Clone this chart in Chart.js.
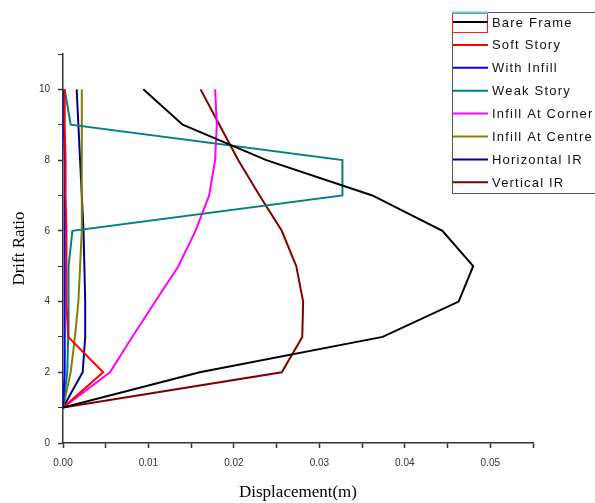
<!DOCTYPE html>
<html>
<head>
<meta charset="utf-8">
<script src="https://cdn.jsdelivr.net/npm/chart.js@4"></script>
<style>
  html, body { margin: 0; padding: 0; background: #fff; }
  #wrap { width: 595px; height: 503px; }
</style>
</head>
<body>
<div id="wrap"><canvas id="driftChart" width="595" height="503"></canvas></div>
<script>
// story levels (y) and displacement in metres (x) for each model
const stories = [1, 2, 3, 4, 5, 6, 7, 8, 9, 10];
const bareFrame      = [0, 0.0160, 0.0374, 0.0463, 0.0480, 0.0444, 0.0362, 0.0238, 0.0140, 0.0094];
const softStory      = [0, 0.0047, 0.0006, 0.0004, 0.0004, 0.0004, 0.0003, 0.0003, 0.0002, 0.0002];
const withInfill     = [0, 0.0002, 0.0002, 0.0002, 0.0002, 0.0002, 0.0002, 0.0002, 0.0001, 0.0001];
const weakStory      = [0, 0.0005, 0.0006, 0.0006, 0.0007, 0.0011, 0.0327, 0.0327, 0.0009, 0.0002];
const infillCorner   = [0, 0.0055, 0.0081, 0.0108, 0.0135, 0.0155, 0.0171, 0.0178, 0.0180, 0.0178];
const infillCentre   = [0, 0.0009, 0.0014, 0.0018, 0.0020, 0.0022, 0.0022, 0.0022, 0.0022, 0.0022];
const horizontalIR   = [0, 0.0023, 0.0026, 0.0026, 0.0025, 0.0024, 0.0022, 0.0020, 0.0018, 0.0016];
const verticalIR     = [0, 0.0256, 0.0280, 0.0281, 0.0273, 0.0256, 0.0230, 0.0205, 0.0183, 0.0161];

const seriesNames  = ['Bare Frame', 'Soft Story', 'With Infill', 'Weak Story',
                      'Infill At Corner', 'Infill At Centre', 'Horizontal IR', 'Vertical IR'];
const seriesValues = [bareFrame, softStory, withInfill, weakStory,
                      infillCorner, infillCentre, horizontalIR, verticalIR];
const seriesColors = ['#000000', '#ff0000', '#0000ff', '#008080',
                      '#ff00ff', '#808000', '#000080', '#800000'];

const datasets = seriesNames.map((name, i) => ({
  label: name,
  data: stories.map((s, j) => ({ x: seriesValues[i][j], y: s })),
  borderColor: seriesColors[i],
  backgroundColor: seriesColors[i],
  borderWidth: 2,
  pointRadius: 0,
  tension: 0,
  fill: false
}));

// legend box drawn inside the plot, top right
const boxLegend = {
  id: 'boxLegend',
  afterDraw(chart) {
    const ctx = chart.ctx;
    ctx.save();
    ctx.strokeStyle = '#555';
    ctx.lineWidth = 1;
    ctx.strokeRect(452.5, 12.5, 160, 181);
    // odd little marker left on the first entry in the original
    ctx.strokeStyle = '#ff2020';
    ctx.strokeRect(452.5, 13.5, 35, 19);
    ctx.strokeStyle = '#40e0f0';
    ctx.lineWidth = 2;
    ctx.beginPath(); ctx.moveTo(452, 12.5); ctx.lineTo(488, 12.5); ctx.stroke();

    ctx.font = '13px "Liberation Sans", Arial, sans-serif';
    ctx.textBaseline = 'middle';
    ctx.letterSpacing = '1.2px';
    chart.data.datasets.forEach((ds, i) => {
      const y = 22 + i * 22.9;
      ctx.strokeStyle = ds.borderColor;
      ctx.lineWidth = 2;
      ctx.beginPath(); ctx.moveTo(453, y); ctx.lineTo(488, y); ctx.stroke();
      ctx.fillStyle = '#111';
      ctx.fillText(ds.label, 492, y + 1);
    });
    ctx.restore();
  }
};

new Chart(document.getElementById('driftChart'), {
  type: 'line',
  data: { datasets },
  options: {
    responsive: false,
    animation: false,
    layout: { padding: { left: 0, top: 54, right: 62, bottom: 0 } },
    plugins: { legend: { display: false }, tooltip: { enabled: false } },
    scales: {
      x: {
        type: 'linear',
        min: 0,
        max: 0.055,
        afterFit(scale) { scale.height = 60; },
        border: { color: '#333', width: 1.5 },
        grid: {
          drawOnChartArea: false,
          tickLength: 5,
          tickColor: '#333',
          tickWidth: 1.5
        },
        ticks: {
          stepSize: 0.005,
          autoSkip: false,
          maxRotation: 0,
          padding: 9,
          color: '#333',
          font: { family: '"Liberation Sans", Arial, sans-serif', size: 10 },
          callback(v) {
            return Math.round(v * 1000) % 10 === 0 ? v.toFixed(2) : '';
          }
        },
        title: {
          display: true,
          text: 'Displacement(m)',
          color: '#000',
          font: { family: '"Liberation Serif", "Times New Roman", serif', size: 17 },
          padding: { top: 0, bottom: 0 }
        }
      },
      y: {
        type: 'linear',
        min: 0,
        max: 11,
        afterFit(scale) { scale.width = 63; },
        border: { color: '#333', width: 1.5 },
        grid: {
          drawOnChartArea: false,
          tickLength: 5,
          tickColor: '#333',
          tickWidth: ctx => (ctx.tick && ctx.tick.value % 2 === 0 ? 1.5 : 1)
        },
        ticks: {
          stepSize: 1,
          autoSkip: false,
          padding: 8,
          color: '#333',
          font: { family: '"Liberation Sans", Arial, sans-serif', size: 10 },
          callback(v) { return v % 2 === 0 ? v : ''; }
        },
        title: {
          display: true,
          text: 'Drift Ratio',
          color: '#000',
          font: { family: '"Liberation Serif", "Times New Roman", serif', size: 17 },
          padding: { top: 9, bottom: 0 }
        }
      }
    }
  },
  plugins: [boxLegend]
});
</script>
</body>
</html>
